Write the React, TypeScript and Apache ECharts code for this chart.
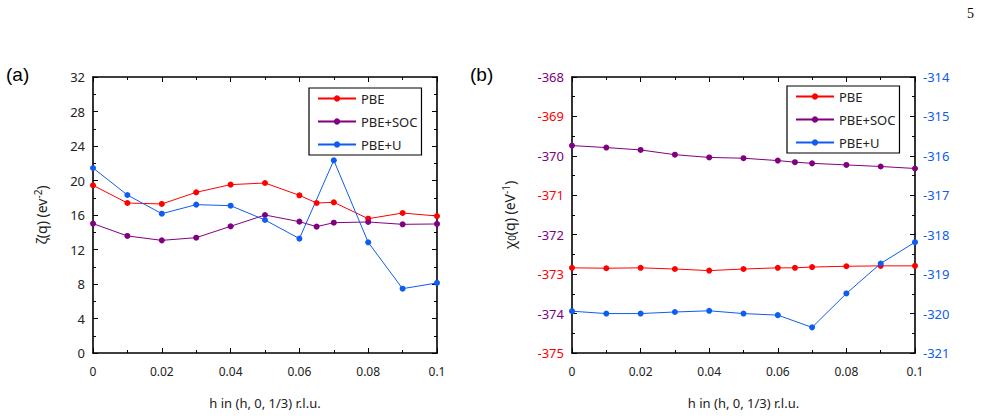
import React, { useEffect, useRef } from "react";
import * as echarts from "echarts";

// h values (r.l.u.)
const hFull = [0, 0.01, 0.02, 0.03, 0.04, 0.05, 0.06, 0.065, 0.07, 0.08, 0.09, 0.1];
const hU = [0, 0.01, 0.02, 0.03, 0.04, 0.05, 0.06, 0.07, 0.08, 0.09, 0.1];

// Panel (a): zeta(q)
const zetaPBE = [19.44, 17.39, 17.28, 18.63, 19.52, 19.71, 18.28, 17.39, 17.47, 15.57, 16.23, 15.88];
const zetaSOC = [15.0, 13.57, 13.06, 13.37, 14.69, 16.0, 15.23, 14.65, 15.11, 15.19, 14.92, 14.96];
const zetaU = [21.45, 18.32, 16.15, 17.2, 17.08, 15.42, 13.26, 22.34, 12.83, 7.46, 8.12];

// Panel (b): chi0(q)
const chiPBE = [-372.84, -372.85, -372.84, -372.87, -372.91, -372.87, -372.84, -372.84, -372.82, -372.8, -372.79, -372.79];
const chiSOC = [-369.74, -369.79, -369.85, -369.97, -370.04, -370.06, -370.12, -370.16, -370.19, -370.23, -370.27, -370.32];
const chiU = [-319.94, -320.0, -320.0, -319.96, -319.93, -320.0, -320.04, -320.35, -319.49, -318.73, -318.19];

const seriesNames = ["PBE", "PBE+SOC", "PBE+U"];
const RED = "#ff0000";
const PURPLE = "#800080";
const BLUE = "#0f5cf2";
const TXT = "#222222";
const FONT = "Noto Sans";

const pairs = (xs: number[], ys: number[]) => ys.map((y, i) => [xs[i], y]);

export default function App() {
  const ref = useRef<HTMLDivElement>(null);
  useEffect(() => {
    if (!ref.current) return;
    const chart = echarts.init(ref.current, null, { renderer: "svg" });

    const tickBase = {
      axisLine: { show: true, onZero: false, lineStyle: { color: "#000", width: 1.6 } },
      axisTick: { show: true, inside: true, length: 5, lineStyle: { color: "#000", width: 1 } },
      minorTick: { show: true, splitNumber: 2, length: 3, lineStyle: { color: "#000", width: 1 } },
      splitLine: { show: false },
      minorSplitLine: { show: false },
    };

    const xBase = (gridIndex: number, position: "bottom" | "top", labels: boolean, name?: string) => ({
      type: "value",
      gridIndex,
      position,
      min: 0,
      max: 0.1,
      interval: 0.02,
      ...tickBase,
      axisLabel: {
        show: labels,
        color: TXT,
        fontFamily: FONT,
        fontSize: 12,
        margin: 12,
      },
      name: name || "",
      nameLocation: "middle",
      nameGap: 43,
      nameTextStyle: { color: TXT, fontFamily: FONT, fontSize: 13 },
    });

    const makeLine = (name: string, color: string, data: number[][], xi: number, yi: number) => ({
      type: "line",
      name,
      xAxisIndex: xi,
      yAxisIndex: yi,
      data,
      symbol: "circle",
      symbolSize: 6,
      showSymbol: true,
      color,
      itemStyle: { color },
      lineStyle: { color, width: 1 },
      emphasis: { disabled: true },
    });

    const legendBase = (left: number, top: number) => ({
      data: seriesNames,
      orient: "vertical",
      left,
      top,
      itemWidth: 38,
      itemHeight: 8,
      itemGap: 10,
      padding: [4, 4, 4, 8],
      borderColor: "#000",
      borderWidth: 1.2,
      backgroundColor: "#fff",
      textStyle: { color: TXT, fontFamily: FONT, fontSize: 13 },
      selectedMode: false,
    });

    const nameRich = {
      sup: { fontFamily: FONT, fontSize: 10, color: TXT, padding: [0, 0, 7, 0] },
      sub: { fontFamily: FONT, fontSize: 10, color: TXT, padding: [5, 0, 0, 0] },
    };

    chart.setOption({
      animation: false,
      backgroundColor: "#fff",
      grid: [
        { left: 93, top: 77, width: 344, height: 276 },
        { left: 572, top: 77, width: 343, height: 276 },
      ],
      xAxis: [
        xBase(0, "bottom", true, "h in (h, 0, 1/3) r.l.u."),
        xBase(0, "top", false),
        xBase(1, "bottom", true, "h in (h, 0, 1/3) r.l.u."),
        xBase(1, "top", false),
      ],
      yAxis: [
        {
          type: "value",
          gridIndex: 0,
          position: "left",
          min: 0,
          max: 32,
          interval: 4,
          ...tickBase,
          axisLabel: { color: TXT, fontFamily: FONT, fontSize: 13, margin: 8 },
          name: "ζ(q) (ev{sup|-2})",
          nameLocation: "middle",
          nameGap: 43,
          nameRotate: 90,
          nameTextStyle: { color: TXT, fontFamily: FONT, fontSize: 14, rich: nameRich },
        },
        {
          type: "value",
          gridIndex: 0,
          position: "right",
          min: 0,
          max: 32,
          interval: 4,
          ...tickBase,
          axisLabel: { show: false },
        },
        {
          type: "value",
          gridIndex: 1,
          position: "left",
          min: -375,
          max: -368,
          interval: 1,
          ...tickBase,
          axisLabel: {
            fontFamily: FONT,
            fontSize: 13,
            margin: 8,
            color: (v: any) => (Math.round(Math.abs(Number(v))) % 2 === 0 ? PURPLE : RED),
          },
          name: "χ{sub|0}(q) (eV{sup|-1})",
          nameLocation: "middle",
          nameGap: 54,
          nameRotate: 90,
          nameTextStyle: { color: TXT, fontFamily: FONT, fontSize: 14, rich: nameRich },
        },
        {
          type: "value",
          gridIndex: 1,
          position: "right",
          min: -321,
          max: -314,
          interval: 1,
          ...tickBase,
          axisLabel: { color: BLUE, fontFamily: FONT, fontSize: 13, margin: 8 },
        },
      ],
      legend: [legendBase(309, 88), legendBase(787, 86)],
      series: [
        makeLine("PBE", RED, pairs(hFull, zetaPBE), 0, 0),
        makeLine("PBE+SOC", PURPLE, pairs(hFull, zetaSOC), 0, 0),
        makeLine("PBE+U", BLUE, pairs(hU, zetaU), 0, 0),
        makeLine("PBE", RED, pairs(hFull, chiPBE), 2, 2),
        makeLine("PBE+SOC", PURPLE, pairs(hFull, chiSOC), 2, 2),
        makeLine("PBE+U", BLUE, pairs(hU, chiU), 2, 3),
      ],
      graphic: [
        {
          type: "text",
          left: 6,
          top: 65,
          style: { text: "(a)", fill: "#000", font: "19px 'Liberation Sans'" },
        },
        {
          type: "text",
          left: 470,
          top: 65,
          style: { text: "(b)", fill: "#000", font: "19px 'Liberation Sans'" },
        },
        {
          type: "text",
          left: 967,
          top: 6,
          style: { text: "5", fill: "#000", font: "14px 'Liberation Serif'" },
        },
      ],
    });

    return () => chart.dispose();
  }, []);

  return (
    <div
      ref={ref}
      style={{ position: "fixed", left: 0, top: 0, width: 1001, height: 417 }}
    />
  );
}
